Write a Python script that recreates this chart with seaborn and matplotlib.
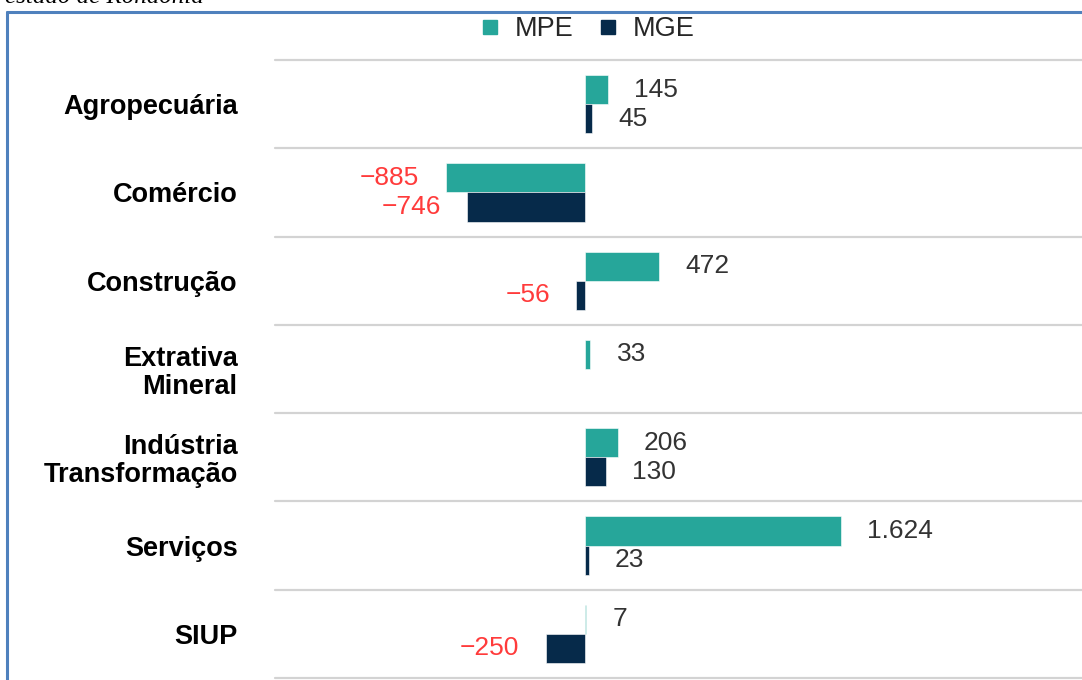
import numpy as np
import pandas as pd
import matplotlib
matplotlib.use("Agg")
import matplotlib.pyplot as plt
from matplotlib.lines import Line2D
import seaborn as sns

# data
setores = ["Agropecuária", "Comércio", "Construção", "Extrativa\nMineral",
           "Indústria\nTransformação", "Serviços", "SIUP"]
mpe = [145, -885, 472, 33, 206, 1624, 7]
mge = [45, -746, -56, np.nan, 130, 23, -250]
portes = ["MPE", "MGE"]
cores = {"MPE": "#26a69a", "MGE": "#062a4a"}

df = pd.DataFrame({
    "setor": setores * 2,
    "porte": ["MPE"] * len(setores) + ["MGE"] * len(setores),
    "valor": mpe + mge,
})


def fmt(v):
    s = f"{abs(int(v)):,}".replace(",", ".")
    return ("\u2212" + s) if v < 0 else s


sns.set_theme(style="white")
plt.rcParams["font.family"] = ["Liberation Sans", "DejaVu Sans"]

fig = plt.figure(figsize=(10.82, 6.80), dpi=100)
ax = fig.add_axes([275 / 1082, 1 - 678 / 680, 1 - 275 / 1082, (678 - 60) / 680])

sns.barplot(data=df, y="setor", x="valor", hue="porte", order=setores,
            hue_order=portes, palette=cores, orient="h", width=0.66,
            dodge=True, legend=False, ax=ax, saturation=1,
            edgecolor="white", linewidth=0.4)

ax.set_xlim(-1967, 3153)
ax.set_ylim(len(setores) - 0.5, -0.5)
ax.set_xlabel("")
ax.set_ylabel("")
ax.set_xticks([])
for s in ax.spines.values():
    s.set_visible(False)
ax.tick_params(axis="y", length=0, pad=27)
for lab in ax.get_yticklabels():
    lab.set_fontweight("bold")
    lab.set_fontsize(19.5)
    lab.set_color("black")
    lab.set_linespacing(1.1)

# separators between groups
for i in range(len(setores) + 1):
    ax.axhline(i - 0.5, color="#d3d3d3", lw=1.6, clip_on=False, zorder=0)

# value labels
for cont in ax.containers:
    for p in cont:
        w = p.get_width()
        if np.isnan(w):
            continue
        yc = p.get_y() + p.get_height() / 2
        if w < 0:
            ax.annotate(fmt(w), (w, yc), xytext=(-19, 0), textcoords="offset points",
                        ha="right", va="center", fontsize=19, color="#ff3b3b")
        else:
            ax.annotate(fmt(w), (w, yc), xytext=(19, 0), textcoords="offset points",
                        ha="left", va="center", fontsize=19, color="#333333")

# legend
handles = [Line2D([], [], marker="s", ls="", color=cores[p], markersize=9.5) for p in portes]
fig.legend(handles, portes, loc="center", bbox_to_anchor=(587 / 1082, 1 - 29 / 680),
           ncol=2, frameon=False, fontsize=19.5, handletextpad=0.5,
           columnspacing=0.9, handlelength=0.8)

# blue frame (top and left edges) and the clipped caption above it
fig.add_artist(Line2D([7 / 1082, 1], [1 - 12 / 680] * 2, color="#4f81bd", lw=2.2,
                      transform=fig.transFigure))
fig.add_artist(Line2D([7 / 1082] * 2, [0, 1 - 12 / 680], color="#4f81bd", lw=2.2,
                      transform=fig.transFigure))
fig.text(5 / 1082, 1 - 3 / 680, "estado de Rondônia", ha="left", va="baseline",
         fontsize=18, fontstyle="italic",
         family=["Liberation Serif", "DejaVu Serif"], color="black")

fig.savefig("out.png", dpi=100)
